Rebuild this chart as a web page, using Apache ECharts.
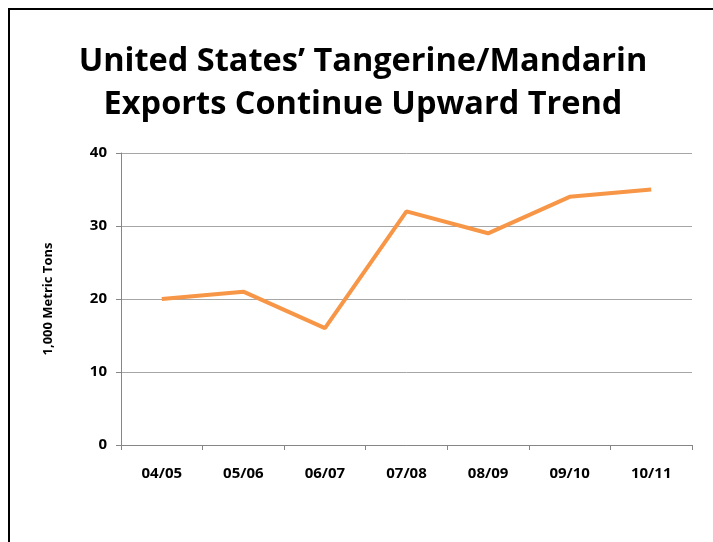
<!DOCTYPE html>
<html>
<head>
<meta charset="utf-8">
<script src="https://cdn.jsdelivr.net/npm/echarts@6/dist/echarts.min.js"></script>
<style>
  html, body { margin: 0; padding: 0; background: #fff; }
  #main { width: 713px; height: 542px; }
</style>
</head>
<body>
<div id="main"></div>
<script>
// Data
var seasons = ['04/05', '05/06', '06/07', '07/08', '08/09', '09/10', '10/11'];
var exportTons = [20, 21, 16, 32, 29, 34, 35];
var yTicks = [0, 10, 20, 30, 40];

var chart = echarts.init(document.getElementById('main'));

var option = {
    backgroundColor: '#fff',
    textStyle: { fontFamily: 'Open Sans' },
    title: {
        text: 'United States\u2019 Tangerine/Mandarin\nExports Continue Upward Trend',
        left: 358,
        top: 35,
        textAlign: 'center',
        textStyle: {
            fontFamily: 'Open Sans',
            fontSize: 32.5,
            fontWeight: 'bold',
            color: '#000',
            lineHeight: 43
        }
    },
    graphic: [
        { type: 'line', shape: { x1: 9, y1: 9, x2: 9, y2: 542 }, style: { stroke: '#000', lineWidth: 2 } },
        { type: 'line', shape: { x1: 8, y1: 9, x2: 713, y2: 9 }, style: { stroke: '#000', lineWidth: 2 } }
    ],
    grid: { left: 121, right: 21, top: 153, bottom: 97, containLabel: false },
    xAxis: {
        type: 'category',
        data: seasons,
        boundaryGap: true,
        axisLine: { lineStyle: { color: '#868686', width: 1 } },
        axisTick: { show: true, length: 5, lineStyle: { color: '#868686' } },
        axisLabel: { fontSize: 15, fontWeight: 'bold', color: '#000', margin: 21 }
    },
    yAxis: {
        type: 'value',
        min: yTicks[0],
        max: yTicks[yTicks.length - 1],
        interval: 10,
        name: '1,000 Metric Tons',
        nameLocation: 'middle',
        nameRotate: 90,
        nameGap: 66,
        nameTextStyle: { fontSize: 13, fontWeight: 'bold', color: '#000' },
        axisLine: { show: true, lineStyle: { color: '#868686', width: 1 } },
        axisTick: { show: true, length: 5, lineStyle: { color: '#868686' } },
        axisLabel: { fontSize: 15, fontWeight: 'bold', color: '#000', margin: 14 },
        splitLine: { show: true, lineStyle: { color: '#a6a6a6', width: 1 } }
    },
    series: [{
        type: 'line',
        data: exportTons,
        showSymbol: false,
        symbol: 'none',
        lineStyle: { color: '#F79646', width: 4 },
        itemStyle: { color: '#F79646' }
    }]
};

chart.setOption(option);
</script>
</body>
</html>
